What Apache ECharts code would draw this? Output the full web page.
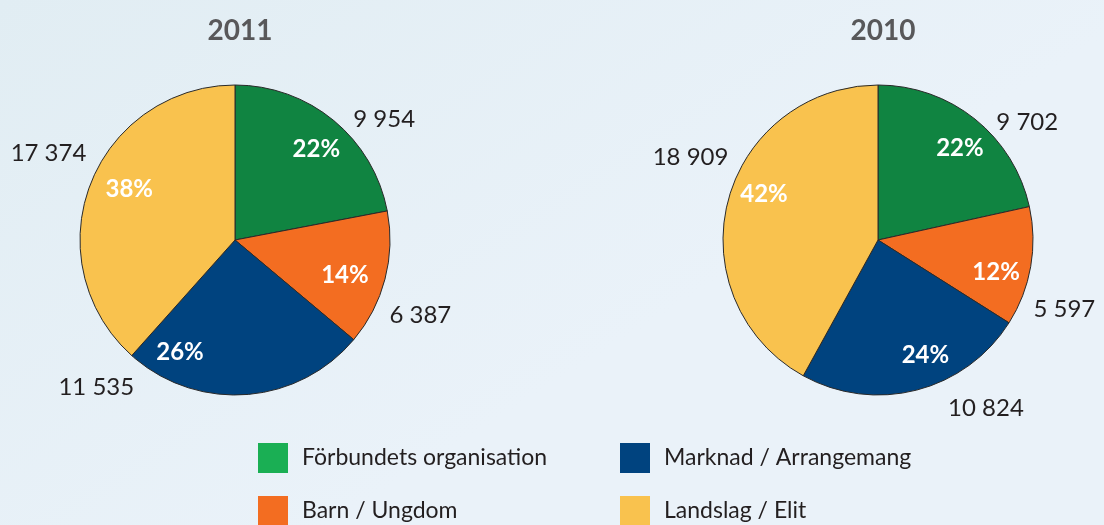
<!DOCTYPE html>
<html>
<head>
<meta charset="utf-8">
<script src="https://cdn.jsdelivr.net/npm/echarts@6/dist/echarts.min.js"></script>
<style>
html,body{margin:0;padding:0;}
#main{width:1104px;height:525px;}
</style>
</head>
<body>
<div id="main"></div>
<script>
const categories = ['Förbundets organisation', 'Barn / Ungdom', 'Marknad / Arrangemang', 'Landslag / Elit'];
const years = ['2011', '2010'];
const values2011 = [9954, 6387, 11535, 17374];
const values2010 = [9702, 5597, 10824, 18909];

// label nudges (style only), per year, per category: [dx, dy]
const pctNudge2011 = [[1, 6], [-12, 4], [-64, -13], [12, -6]];
const pctNudge2010 = [[3, 6], [-6, 11], [16, -7], [8, -14]];
const valNudge2011 = [[3, 13], [-18, 32], [-194, -25], [18, -25]];
const valNudge2010 = [[5, 17], [-20, 39], [22, 1], [23, -40]];

const sliceColors = ['#108441', '#f36d21', '#00437f', '#f9c24e'];
const legendColors = ['#1aaf54', '#f36d21', '#00437f', '#f9c24e'];
const FONT = 'Lato';

function fmtValue(v) {
  return String(v).replace(/\B(?=(\d{3})+(?!\d))/g, ' ');
}

const pies = [
  { year: years[0], values: values2011, cx: 235, pct: pctNudge2011, val: valNudge2011 },
  { year: years[1], values: values2010, cx: 878, pct: pctNudge2010, val: valNudge2010 }
];
const cy = 240;
const R = 155;

const series = [];
const titles = [];
pies.forEach(function (p) {
  const data = categories.map(function (c, i) {
    return { name: c, value: p.values[i], itemStyle: { color: sliceColors[i] } };
  });
  const ghost = function () {
    return data.map(function (d) { return { name: d.name, value: d.value, itemStyle: { color: 'rgba(0,0,0,0)' } }; });
  };
  titles.push({
    text: p.year, left: p.cx, top: 12, textAlign: 'center',
    textStyle: { fontFamily: FONT, fontSize: 28, fontWeight: 'bold', color: '#58585a' }
  });
  // visible slices
  series.push({
    type: 'pie', center: [p.cx, cy], radius: [0, R], startAngle: 90, clockwise: true,
    silent: true, label: { show: false }, labelLine: { show: false },
    itemStyle: { borderColor: '#2a2a2a', borderWidth: 1 },
    data: data
  });
  // percentage labels
  series.push({
    type: 'pie', center: [p.cx, cy], radius: [96, 150], startAngle: 90, clockwise: true,
    silent: true, percentPrecision: 0,
    label: { show: true, position: 'inside', formatter: '{d}%', overflow: 'none',
      fontFamily: FONT, fontSize: 24, fontWeight: 'bold', color: '#ffffff' },
    labelLine: { show: false },
    labelLayout: function (pa) { return { dx: p.pct[pa.dataIndex][0], dy: p.pct[pa.dataIndex][1] }; },
    data: ghost()
  });
  // value labels
  series.push({
    type: 'pie', center: [p.cx, cy], radius: [0, R], startAngle: 90, clockwise: true,
    silent: true,
    label: { show: true, position: 'outside', alignTo: 'none', overflow: 'none',
      formatter: function (pa) { return fmtValue(pa.value); },
      fontFamily: FONT, fontSize: 24, color: '#231f20' },
    labelLine: { show: false, length: 18, length2: 0 },
    labelLayout: function (pa) { return { dx: p.val[pa.dataIndex][0], dy: p.val[pa.dataIndex][1] }; },
    data: ghost()
  });
});

const legendPos = [[258, 443], [258, 496], [620, 443], [620, 496]];
const legends = categories.map(function (c, i) {
  return {
    left: legendPos[i][0], top: legendPos[i][1], padding: 0,
    itemWidth: 30, itemHeight: 30, icon: 'rect', selectedMode: false,
    textStyle: { fontFamily: FONT, fontSize: 23, color: '#231f20', padding: [0, 0, 0, 9] },
    data: [{ name: c, itemStyle: { color: legendColors[i], borderWidth: 0 } }]
  };
});

const option = {
  animation: false,
  backgroundColor: {
    type: 'linear', x: 0, y: 0, x2: 0.3, y2: 1,
    colorStops: [{ offset: 0, color: '#e1edf3' }, { offset: 1, color: '#eaf2f9' }]
  },
  title: titles,
  legend: legends,
  series: series
};

const chart = echarts.init(document.getElementById('main'));
chart.setOption(option);
</script>
</body>
</html>
